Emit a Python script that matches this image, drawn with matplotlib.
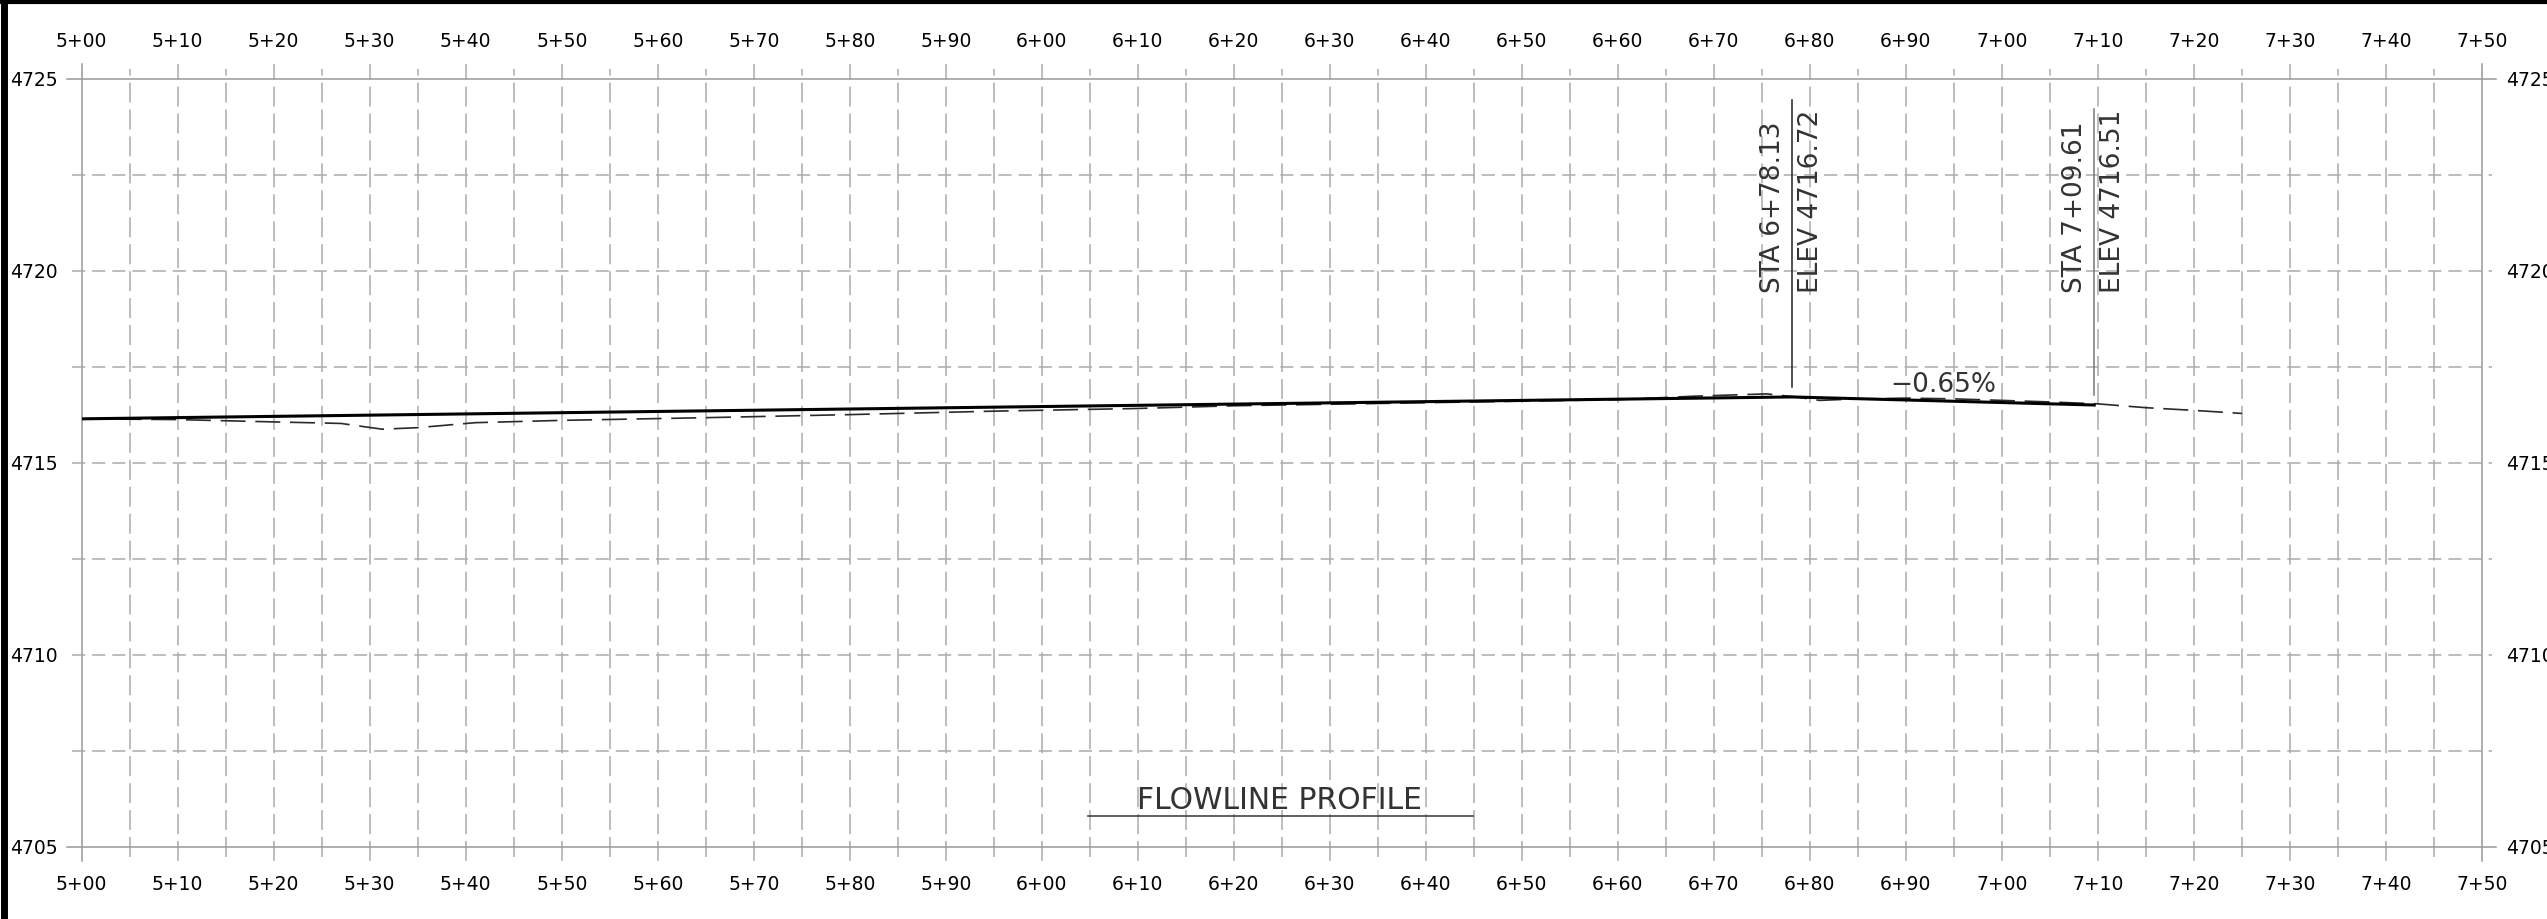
import matplotlib
matplotlib.use("Agg")
import matplotlib.pyplot as plt
from matplotlib.lines import Line2D

# Stations are in feet (500 = 5+00), elevations in feet.
major_stations = [500, 510, 520, 530, 540, 550, 560, 570, 580, 590, 600, 610, 620, 630, 640,
                  650, 660, 670, 680, 690, 700, 710, 720, 730, 740, 750]
minor_stations = [505, 515, 525, 535, 545, 555, 565, 575, 585, 595, 605, 615, 625, 635, 645,
                  655, 665, 675, 685, 695, 705, 715, 725, 735, 745]
station_labels = ["5+00", "5+10", "5+20", "5+30", "5+40", "5+50", "5+60", "5+70", "5+80", "5+90",
                  "6+00", "6+10", "6+20", "6+30", "6+40", "6+50", "6+60", "6+70", "6+80", "6+90",
                  "7+00", "7+10", "7+20", "7+30", "7+40", "7+50"]
elev_ticks = [4705, 4710, 4715, 4720, 4725]
elev_grid = [4705, 4707.5, 4710, 4712.5, 4715, 4717.5, 4720, 4722.5, 4725]

# proposed flowline
flow_sta = [500, 678.13, 709.61]
flow_elev = [4716.15, 4716.72, 4716.51]

# existing ground
ground_sta = [500, 510, 520, 527, 531.3, 535, 541, 550, 565, 580, 595, 610, 620, 640, 660,
              668, 675.5, 678.5, 681, 684, 690, 695, 700, 705, 710, 715, 720, 725]
ground_elev = [4716.15, 4716.13, 4716.07, 4716.03, 4715.88, 4715.92, 4716.05, 4716.11, 4716.18,
               4716.26, 4716.35, 4716.42, 4716.49, 4716.57, 4716.65, 4716.74, 4716.80, 4716.72,
               4716.63, 4716.66, 4716.69, 4716.67, 4716.63, 4716.59, 4716.54, 4716.44, 4716.37,
               4716.29]

# grade break callouts
pvi_sta = [678.13, 709.61]
pvi_sta_text = ["STA 6+78.13", "STA 7+09.61"]
pvi_elev_text = ["ELEV 4716.72", "ELEV 4716.51"]
slope_text = "\u22120.65%"
title_text = "FLOWLINE PROFILE"

plt.rcParams["lines.scale_dashes"] = False
plt.rcParams["font.family"] = "DejaVu Sans"
grid_col = "#ababab"
edge_col = "#999999"
text_col = "#333333"

fig = plt.figure(figsize=(25.47, 9.19), dpi=100)
ax = fig.add_axes([0.03208, 0.07835, 0.9424, 0.8357])
ax.set_xlim(major_stations[0], major_stations[-1])
ax.set_ylim(elev_grid[0], elev_grid[-1])
for s in ax.spines.values():
    s.set_visible(False)

# vertical grid lines, a bit past the frame top and bottom
for s in major_stations:
    solid = s in (major_stations[0], major_stations[-1])
    kw = {} if solid else {"dashes": (14.4, 5)}
    ax.plot([s, s], [elev_grid[0] - 0.37, elev_grid[-1] + 0.39], color=edge_col if solid else grid_col,
            lw=1.1, clip_on=False, zorder=1, **kw)
for s in minor_stations:
    ax.plot([s, s], [elev_grid[0] - 0.26, elev_grid[-1] + 0.26], color=grid_col,
            lw=1.1, dashes=(14.4, 5), clip_on=False, zorder=1)

# horizontal grid lines
for e in elev_grid:
    solid = e in (elev_grid[0], elev_grid[-1])
    ext = 1.5 if solid else 1.0
    kw = {} if solid else {"dashes": (9.5, 5)}
    ax.plot([major_stations[0] - ext, major_stations[-1] + ext], [e, e],
            color=edge_col if solid else grid_col, lw=1.1, clip_on=False, zorder=1, **kw)

# profile lines
ax.plot(ground_sta, ground_elev, color="#2a2a2a", lw=1.2, dashes=(18, 7), zorder=3)
ax.plot(flow_sta, flow_elev, color="black", lw=2.2, zorder=4)

# ticks / labels
ax.set_xticks(major_stations)
ax.set_xticklabels(station_labels)
ax.set_yticks(elev_ticks)
ax.set_yticklabels([str(e) for e in elev_ticks])
ax.tick_params(axis="x", top=True, bottom=True, labeltop=True, labelbottom=True,
               length=0, labelsize=13.5, pad=20)
ax.tick_params(axis="y", left=True, right=True, labelleft=True, labelright=True,
               length=0, labelsize=13.5, pad=17)

# callouts at grade breaks
line_tops = [4724.45, 4724.22]
line_bots = [4716.98, 4716.78]
line_cols = ["#222222", "#777777"]
for i in range(len(pvi_sta)):
    ax.plot([pvi_sta[i], pvi_sta[i]], [line_bots[i], line_tops[i]], color=line_cols[i], lw=1.1, zorder=3)
    ax.text(pvi_sta[i] - 2.0, 4719.42, pvi_sta_text[i], rotation=90, rotation_mode="anchor",
            ha="left", va="center", fontsize=19, color=text_col)
    ax.text(pvi_sta[i] + 1.95, 4719.42, pvi_elev_text[i], rotation=90, rotation_mode="anchor",
            ha="left", va="center", fontsize=19, color=text_col)

ax.text(693.9, 4717.02, slope_text, ha="center", va="center", fontsize=19,
        color=text_col, zorder=5)

# title with underline
ax.text(624.8, 4706.22, title_text, ha="center", va="center", fontsize=21.5,
        color=text_col, zorder=5)
ax.plot([604.8, 644.9], [4705.81, 4705.81], color="#444444", lw=1.2, zorder=5)

# sheet border
fig.add_artist(Line2D([3.5 / 2547, 3.5 / 2547], [0, 1], color="black", lw=5))
fig.add_artist(Line2D([0, 1], [1 - 2 / 919, 1 - 2 / 919], color="black", lw=3))

fig.savefig("out.png", dpi=100)
